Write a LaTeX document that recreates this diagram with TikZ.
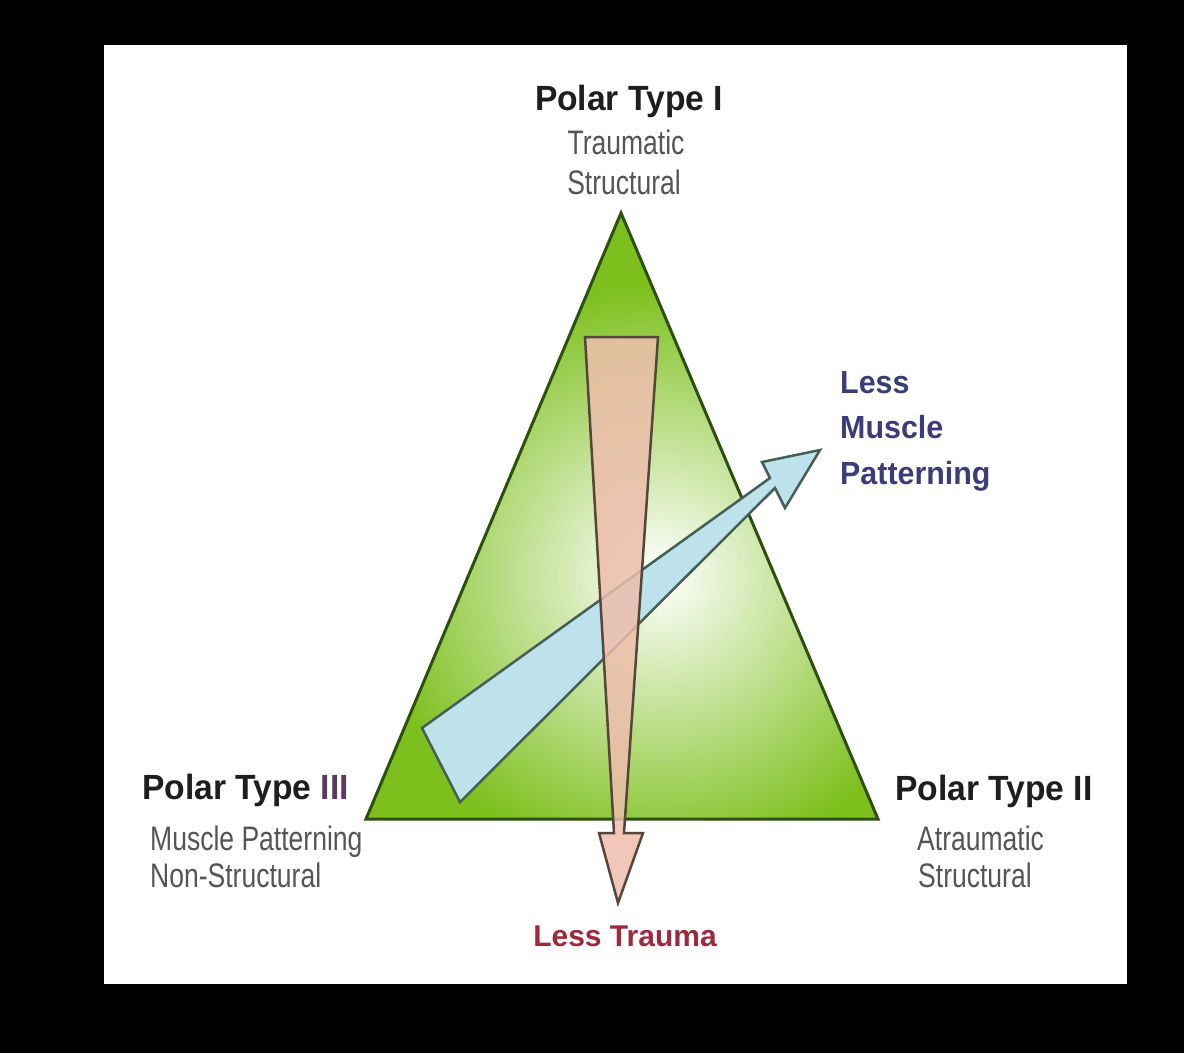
\documentclass[tikz,border=0pt]{standalone}
\usepackage{fontspec}
\setmainfont{Liberation Sans}
\definecolor{trigreen}{RGB}{125,192,30}
\definecolor{triedge}{RGB}{45,80,15}
\definecolor{bluefill}{RGB}{190,226,236}
\definecolor{blueedge}{RGB}{70,95,85}
\definecolor{pinkfill}{RGB}{238,190,172}
\definecolor{pinkedge}{RGB}{85,70,60}
\definecolor{titlec}{RGB}{30,30,30}
\definecolor{subc}{RGB}{85,85,85}
\definecolor{lessblue}{RGB}{60,60,120}
\definecolor{lessred}{RGB}{160,40,60}
\definecolor{threec}{RGB}{90,60,95}
\begin{document}
\begin{tikzpicture}[x=1pt,y=-1pt,
  titletext/.style={inner sep=0pt,text=titlec,font=\fontsize{35}{40}\selectfont\bfseries},
  subtext/.style={inner sep=0pt,text=subc,font=\fontsize{34}{38}\selectfont},
  lessmp/.style={inner sep=0pt,text=lessblue,font=\fontsize{32}{36}\selectfont\bfseries},
  lesstr/.style={inner sep=0pt,text=lessred,font=\fontsize{30}{34}\selectfont\bfseries},
  edgeline/.style={line width=3pt,line join=miter}]
\useasboundingbox (0,0) rectangle (1184,1053);
\fill[black] (0,0) rectangle (1184,1053);
\fill[white] (104,45) rectangle (1127,984);
% triangle
\coordinate (A) at (621,213);
\coordinate (B) at (366,819);
\coordinate (C) at (878,819);
\begin{scope}
  \clip (A)--(B)--(C)--cycle;
  \fill[trigreen] (A)--(B)--(C)--cycle;
  \shade[inner color=white,outer color=trigreen] (660,575) circle (290pt);
\end{scope}
\draw[edgeline,draw=triedge] (A)--(B)--(C)--cycle;
% blue arrow
\draw[edgeline,line width=2.5pt,draw=blueedge,fill=bluefill]
  (422,728)--(770,478)--(762,462)--(820,450)--(785,508)--(775,488)--(460,802)--cycle;
% pink arrow
\draw[edgeline,line width=2.5pt,draw=pinkedge,fill=pinkfill,fill opacity=0.85]
  (585,337)--(658,337)--(624,833)--(643,833)--(618,903)--(599,833)--(614,833)--cycle;
% labels
\node[titletext,anchor=base] (p1) at (629,110) {\scalebox{0.96}[1]{Polar Type I}};
\node[subtext,anchor=base] (p1a) at (626,154) {\scalebox{0.78}[1]{Traumatic}};
\node[subtext,anchor=base] (p1b) at (624,194) {\scalebox{0.78}[1]{Structural}};
\node[titletext,anchor=base west] (p3) at (142,799) {\scalebox{0.96}[1]{Polar Type \textcolor{threec}{III}}};
\node[subtext,anchor=base west] (p3a) at (150,850) {\scalebox{0.78}[1]{Muscle Patterning}};
\node[subtext,anchor=base west] (p3b) at (150,887) {\scalebox{0.78}[1]{Non-Structural}};
\node[titletext,anchor=base west] (p2) at (895,800) {\scalebox{0.96}[1]{Polar Type II}};
\node[subtext,anchor=base west] (p2a) at (917,850) {\scalebox{0.78}[1]{Atraumatic}};
\node[subtext,anchor=base west] (p2b) at (918,887) {\scalebox{0.78}[1]{Structural}};
\node[lessmp,anchor=base west] (lm1) at (840,393) {\scalebox{0.95}[1]{Less}};
\node[lessmp,anchor=base west] (lm2) at (840,438) {\scalebox{0.95}[1]{Muscle}};
\node[lessmp,anchor=base west] (lm3) at (840,484) {\scalebox{0.95}[1]{Patterning}};
\node[lesstr,anchor=base] (lt) at (625,946) {Less Trauma};
\end{tikzpicture}
\end{document}
